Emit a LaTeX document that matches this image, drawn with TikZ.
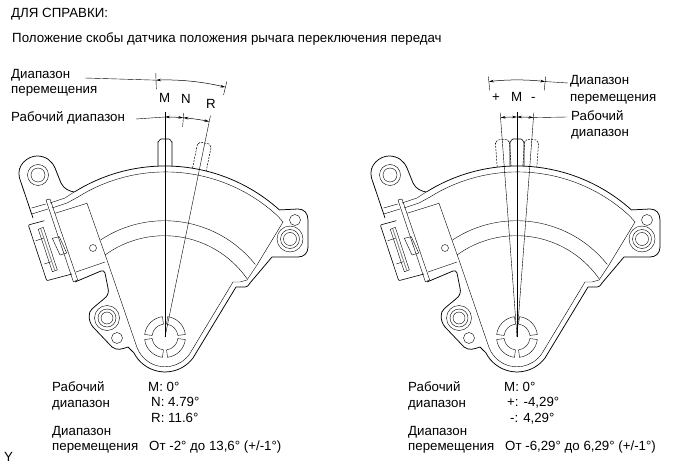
\documentclass[tikz,border=0pt]{standalone}
\usepackage{fontspec}
\setmainfont{Liberation Sans}
\usetikzlibrary{arrows.meta}
\begin{document}
\begin{tikzpicture}[
x=1pt, y=-1pt,
thinline/.style = {line width=0.4pt},
outline/.style = {line width=0.75pt, line join=round},
pinline/.style = {line width=0.6pt},
dashpin/.style = {line width=0.5pt, dash pattern=on 2pt off 1.2pt},
dimline/.style = {line width=0.5pt, {Stealth[length=5pt,width=2.6pt]}-{Stealth[length=5pt,width=2.6pt]}},
txt/.style = {anchor=base west, inner sep=0pt, font=\fontsize{13.3}{15}\selectfont}
                        ]
%size of the page
\useasboundingbox (0,0) rectangle (690,465);
%

% both sensor bodies
\foreach \dx in {0,352}
{
\begin{scope}[xshift=\dx]
    % outer contour
    \draw[outline] (165,337) ++(-122:171) arc (-122:-48:171) -- (298,209)
        .. controls (304,209) and (308,213) .. (308,220) -- (308,247)
        .. controls (308,253) and (304,257) .. (298,257) -- (272,257)
        -- (250,283) .. controls (248,286) and (247,287) .. (245,287) -- (236,287)
        -- (193,358) arc (37:153:35)
        -- (128,347) .. controls (122,349) and (117,351) .. (112,347) -- (93,327)
        .. controls (88,321) and (88,312) .. (92,309) .. controls (95,306) and (103,300) .. (106,297)
        .. controls (108,295) and (109,291) .. (108,288) -- (105,273)
        .. controls (104,271) and (103,270) .. (101,271) -- (75,282);
    \draw[outline] (33,218) -- (19.5,178) .. controls (16,165) and (28,156) .. (37,156)
        .. controls (46,156) and (52,161) .. (55,168) -- (61,183)
        .. controls (64,189) and (69,191) .. (74,192);

    % inner contour
    \draw[thinline] (52,208) -- (67,203) -- (78,197) arc (-122:-47:165) -- (283,222) -- (257,265)
        -- (247,280) -- (240,282) -- (233,282) -- (189.6,354) arc (35:160:30) -- (107,260)
        -- (87,203.3) -- (55,213.3);
    \draw[thinline] (50,203) -- (65,198) -- (74,192);
    \draw[thinline] (31.7,208) -- (45.7,204);
    \draw[thinline] (31.7,214) -- (48,209);

    % arcs over the body
    \draw[thinline] (100.5,240) arc (-123.5:-38.5:116);
    \draw[thinline] (105,255) arc (-126:-35:101);

    % connector
    \draw[thinline] (46,200) -- (50,199) -- (77.7,280) -- (73.3,281.7) -- cycle;
    \draw[pinline, rounded corners=1pt] (44.3,220.7) -- (28.3,225) -- (46.7,280.7) -- (72,274);
    \draw[thinline] (38.3,229.3) -- (43.3,227.3) -- (57.3,270) -- (52.3,271.7) -- cycle;
    \draw[line width=0.8pt, gray] (40.8,229) -- (54.8,270.5);
    \draw[thinline] (35.7,240.7) -- (43.3,238.3);
    \draw[thinline] (44.3,264) -- (51,261.7);
    \draw[thinline] (52.3,238.3) -- (59.3,236.7) -- (66.7,253) -- (60,255) -- cycle;
    \draw[thinline] (76,272) -- (105,262);
    \draw[thinline] (93,248) circle (3.5);

    % bolt holes
    \draw[thinline] (38,175) circle (10.5) circle (7);
    \draw[thinline] (290,239) circle (13) circle (9.5) circle (6.5);
    \draw[thinline] (295,220) circle (5.5);
    \draw[thinline] (107,318) circle (12.5) circle (9) circle (6);
    \draw[thinline] (117,338) circle (5.5);

    % ring around the shaft
    \begin{scope}[shift={(165,337)}]
    \foreach \a in {0,90,180,270}
    {
        \draw[thinline] (\a+7:20.5) arc (\a+7:\a+83:20.5) -- (\a+83:13) arc (\a+83:\a+7:13) -- cycle;
    }
    \end{scope}
\end{scope}
}

% left sensor, dimensions
\begin{scope}[shift={(165,337)}]
    \draw[pinline] (-7,-171) -- (-7,-195) to[out=-90,in=180] (-4,-198) -- (4,-198) to[out=0,in=-90] (7,-195) -- (7,-171);
    \draw[dashpin, rotate=-11.6] (-7,-171) -- (-7,-195) to[out=-90,in=180] (-4,-198) -- (4,-198) to[out=0,in=-90] (7,-195) -- (7,-171);

    \coordinate (travelLoL) at (-92:257);
    \coordinate (travelHiL) at (-76.4:257);
    \coordinate (workML) at (-90:220);
    \coordinate (workNL) at (-85.21:220);
    \coordinate (workRL) at (-78.4:220);
    \coordinate (shaftL) at (0,0);

    \draw[thinline] (shaftL) -- (-90:225);
    \draw[thinline] (shaftL) -- (-78.4:226);
    \draw[thinline] (-85.21:211) -- (-85.21:225);
    \draw[thinline] (-92:248) -- (-92:264);
    \draw[thinline] (-76.4:249) -- (-76.4:263);

    \draw[dimline] (travelLoL) arc (-92:-76.4:257);
    \draw[dimline] (workML) arc (-90:-85.21:220);
    \draw[dimline] (workNL) arc (-85.21:-78.4:220);
\end{scope}

% right sensor, dimensions
\begin{scope}[shift={(517,337)}]
    \draw[pinline] (-7,-171) -- (-7,-195) to[out=-90,in=180] (-4,-198) -- (4,-198) to[out=0,in=-90] (7,-195) -- (7,-171);
    \draw[dashpin, rotate=4.29] (-7,-171) -- (-7,-195) to[out=-90,in=180] (-4,-198) -- (4,-198) to[out=0,in=-90] (7,-195) -- (7,-171);
    \draw[dashpin, rotate=-4.29] (-7,-171) -- (-7,-195) to[out=-90,in=180] (-4,-198) -- (4,-198) to[out=0,in=-90] (7,-195) -- (7,-171);

    \coordinate (travelLoR) at (-96.29:257);
    \coordinate (travelHiR) at (-83.71:257);
    \coordinate (workPlusR) at (-94.29:220);
    \coordinate (workMR) at (-90:220);
    \coordinate (workMinusR) at (-85.71:220);
    \coordinate (shaftR) at (0,0);

    \draw[thinline] (shaftR) -- (-90:225);
    \draw[thinline] (shaftR) -- (-94.29:225);
    \draw[thinline] (shaftR) -- (-85.71:225);
    \draw[thinline] (-96.29:248) -- (-96.29:262);
    \draw[thinline] (-83.71:248) -- (-83.71:262);

    \draw[dimline] (travelLoR) arc (-96.29:-83.71:257);
    \draw[dimline] (workPlusR) arc (-94.29:-90:220);
    \draw[dimline] (workMR) arc (-90:-85.71:220);
\end{scope}

% leaders
\coordinate (travelLeadL) at (85,78);
\coordinate (workLeadL) at (136,119);
\coordinate (travelLeadR) at (568,83);
\coordinate (workLeadR) at (567,117);
\draw[thinline] (travelLeadL) -- (travelLoL);
\draw[thinline] (workLeadL) -- (workML);
\draw[thinline] (travelLeadR) -- (travelHiR);
\draw[thinline] (workLeadR) -- (workMinusR);

% header
\node[txt] (title) at (11,18) {ДЛЯ СПРАВКИ:};
\node[txt] (subtitle) at (12,43) {Положение скобы датчика положения рычага переключения передач};

% labels left
\node[txt] (travelTopL) at (11,79) {Диапазон};
\node[txt] (travelBotL) at (11,94) {перемещения};
\node[txt] (workL) at (11,122) {Рабочий диапазон};
\node[txt] (markML) at (159,103) {M};
\node[txt] (markNL) at (181,104) {N};
\node[txt] (markRL) at (206,109) {R};

% labels right
\node[txt] (travelTopR) at (570,85) {Диапазон};
\node[txt] (travelBotR) at (570,102) {перемещения};
\node[txt] (workTopR) at (571,121) {Рабочий};
\node[txt] (workBotR) at (571,137) {диапазон};
\node[txt] (markPlusR) at (492,102) {+};
\node[txt] (markMR) at (511,102) {M};
\node[txt] (markMinusR) at (531,102) {-};

% values left
\node[txt] (valWorkTopL) at (52,391) {Рабочий};
\node[txt] (valWorkBotL) at (52,407) {диапазон};
\node[txt] (valTravelTopL) at (52,435) {Диапазон};
\node[txt] (valTravelBotL) at (52,450) {перемещения};
\node[txt] (valML) at (148,391) {M: 0°};
\node[txt] (valNL) at (151,406) {N: 4.79°};
\node[txt] (valRL) at (151,422) {R: 11.6°};
\node[txt] (valTravelL) at (149,450) {От -2° до 13,6° (+/-1°)};

% values right
\node[txt] (valWorkTopR) at (408,391) {Рабочий};
\node[txt] (valWorkBotR) at (408,407) {диапазон};
\node[txt] (valTravelTopR) at (408,435) {Диапазон};
\node[txt] (valTravelBotR) at (408,450) {перемещения};
\node[txt] (valMR) at (504,391) {M: 0°};
\node[txt] (valPlusR) at (507,406) {+: -4,29°};
\node[txt] (valMinusR) at (510,422) {-: 4,29°};
\node[txt] (valTravelR) at (505,450) {От -6,29° до 6,29° (+/-1°)};

\node[txt] (figTag) at (4,461) {Y};

\end{tikzpicture}
\end{document}
